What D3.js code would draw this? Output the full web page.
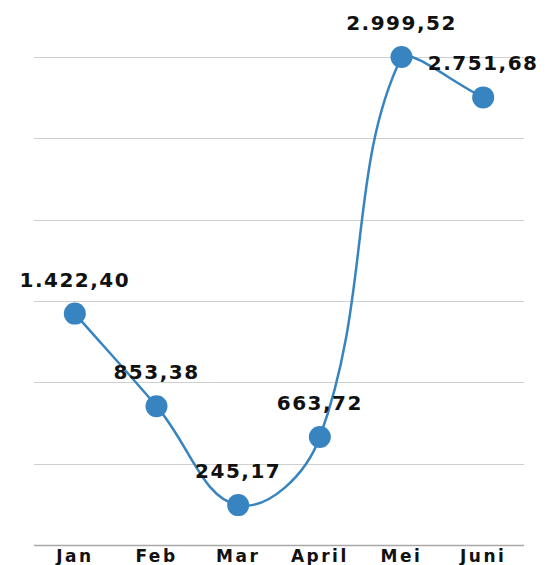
<!DOCTYPE html>
<html>
<head>
<meta charset="utf-8">
<script src="https://cdn.jsdelivr.net/npm/d3@7"></script>
<style>
  body { margin: 0; background: #fff; }
  svg text { font-family: "DejaVu Sans", sans-serif; font-weight: bold; fill: #111; }
</style>
</head>
<body>
<svg width="550" height="565"></svg>
<script>
var months = ["Jan", "Feb", "Mar", "April", "Mei", "Juni"];
var values = [1422.40, 853.38, 245.17, 663.72, 2999.52, 2751.68];
var gridTicks = [0, 500, 1000, 1500, 2000, 2500, 3000];

var fmt = function(v) {
  return d3.format(",.2f")(v).replace(/,/g, "#").replace(/\./g, ",").replace(/#/g, ".");
};

// chart.js-like spline (tension 0.4, control points capped to the chart area)
function splineCurve(tension, top, bottom) {
  return function(context) {
    var pts;
    return {
      areaStart: function() {}, areaEnd: function() {},
      lineStart: function() { pts = []; },
      point: function(x, y) { pts.push([x, y]); },
      lineEnd: function() {
        var cps = pts.map(function(p, i) {
          var prev = pts[i - 1] || p, next = pts[i + 1] || p;
          var d01 = Math.hypot(p[0] - prev[0], p[1] - prev[1]);
          var d12 = Math.hypot(next[0] - p[0], next[1] - p[1]);
          var s01 = d01 / (d01 + d12) || 0, s12 = d12 / (d01 + d12) || 0;
          var fa = tension * s01, fb = tension * s12;
          var cy = function(v) { return Math.max(top, Math.min(bottom, v)); };
          return {
            pIn: [p[0] - fa * (next[0] - prev[0]), cy(p[1] - fa * (next[1] - prev[1]))],
            pOut: [p[0] + fb * (next[0] - prev[0]), cy(p[1] + fb * (next[1] - prev[1]))]
          };
        });
        context.moveTo(pts[0][0], pts[0][1]);
        for (var i = 1; i < pts.length; i++) {
          context.bezierCurveTo(cps[i - 1].pOut[0], cps[i - 1].pOut[1],
                                cps[i].pIn[0], cps[i].pIn[1], pts[i][0], pts[i][1]);
        }
      }
    };
  };
}

var svg = d3.select("svg");

var x = d3.scalePoint().domain(months).range([34, 524]).padding(0.5);
var y = d3.scaleLinear().domain([0, 3000]).range([545, 57]);

svg.append("g")
  .selectAll("line")
  .data(gridTicks.slice(1))
  .enter().append("line")
  .attr("x1", 34).attr("x2", 524)
  .attr("y1", d => Math.round(y(d)) + 0.5)
  .attr("y2", d => Math.round(y(d)) + 0.5)
  .attr("stroke", "#cfcfcf")
  .attr("stroke-width", 1);

svg.append("line")
  .attr("x1", 34).attr("x2", 524)
  .attr("y1", Math.round(y(0)) + 0.5).attr("y2", Math.round(y(0)) + 0.5)
  .attr("stroke", "#a8a8a8")
  .attr("stroke-width", 1.5);

svg.append("g")
  .selectAll("text")
  .data(months)
  .enter().append("text")
  .attr("x", d => x(d))
  .attr("y", 562)
  .attr("text-anchor", "middle")
  .style("font-size", "17px")
  .style("letter-spacing", "2.5px")
  .text(d => d);

var data = months.map((m, i) => ({ m: m, v: values[i] }));

var line = d3.line()
  .x(d => x(d.m))
  .y(d => y(d.v))
  .curve(splineCurve(0.4, 50, 545));

svg.append("path")
  .datum(data)
  .attr("d", line)
  .attr("fill", "none")
  .attr("stroke", "#3784c0")
  .attr("stroke-width", 2.5);

svg.append("g")
  .selectAll("circle")
  .data(data)
  .enter().append("circle")
  .attr("cx", d => x(d.m))
  .attr("cy", d => y(d.v))
  .attr("r", 11)
  .attr("fill", "#3784c0");

svg.append("g")
  .selectAll("text")
  .data(data)
  .enter().append("text")
  .attr("x", d => x(d.m))
  .attr("y", d => y(d.v) - 27)
  .attr("text-anchor", "middle")
  .style("font-size", "20px")
  .style("letter-spacing", "1.5px")
  .text(d => fmt(d.v));
</script>
</body>
</html>
